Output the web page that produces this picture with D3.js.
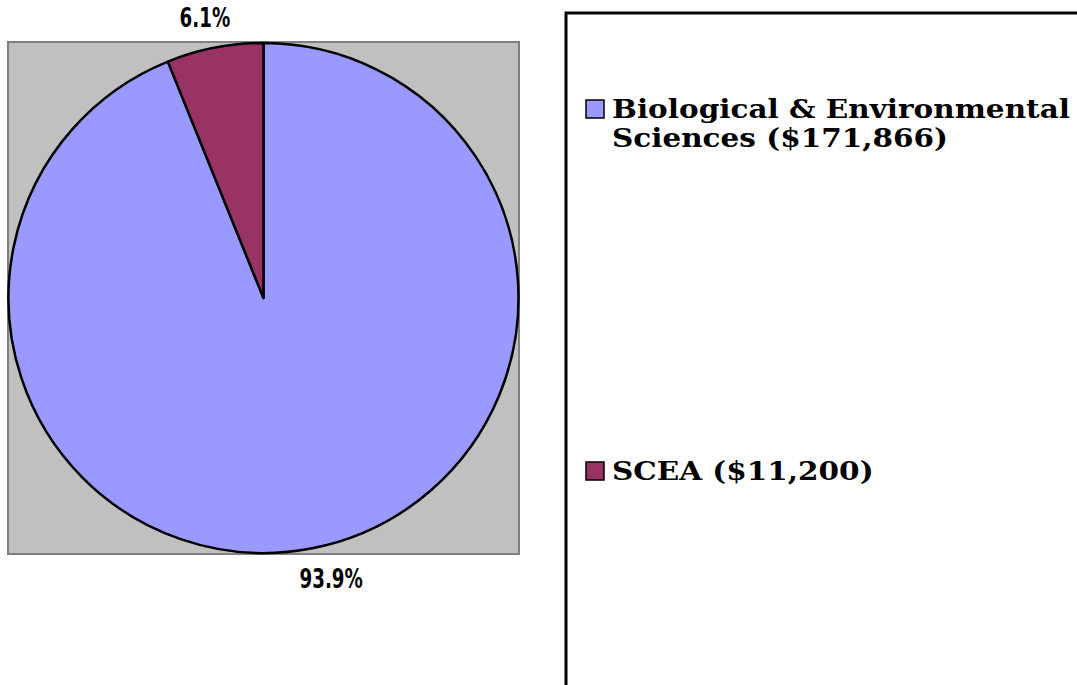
<!DOCTYPE html>
<html>
<head>
<meta charset="utf-8">
<script src="https://cdn.jsdelivr.net/npm/d3@7"></script>
<style>
  body { margin: 0; background: #fff; }
  svg { display: block; }
</style>
</head>
<body>
<svg width="1077" height="685"></svg>
<script>
var categories = ["Biological & Environmental Sciences ($171,866)", "SCEA ($11,200)"],
    legendLines = [["Biological & Environmental", "Sciences ($171,866)"], ["SCEA ($11,200)"]],
    amounts = [171866, 11200],
    colors = ["#9999ff", "#993366"];

var svg = d3.select("svg"),
    width = +svg.attr("width"),
    height = +svg.attr("height");

var cx = 263.5, cy = 298, r = 255;

// plot area
svg.append("rect")
    .attr("x", 8).attr("y", 42)
    .attr("width", 511).attr("height", 512)
    .attr("fill", "#c0c0c0")
    .attr("stroke", "#808080")
    .attr("stroke-width", 2);

var pie = d3.pie().sort(null).value(function(d) { return d; });
var arc = d3.arc().innerRadius(0).outerRadius(r);
var labelArc = d3.arc().innerRadius(286).outerRadius(286);
var total = d3.sum(amounts);
var pct = d3.format(".1%");
var labelDx = [13, -4];

var g = svg.append("g").attr("transform", "translate(" + cx + "," + cy + ")");

var arcs = pie(amounts);

g.selectAll(".slice")
    .data(arcs)
  .enter().append("path")
    .attr("class", "slice")
    .attr("d", arc)
    .attr("fill", function(d, i) { return colors[i]; })
    .attr("stroke", "#000")
    .attr("stroke-width", 2.5)
    .attr("stroke-linejoin", "round");

g.selectAll(".lbl")
    .data(arcs)
  .enter().append("g")
    .attr("class", "lbl")
    .attr("transform", function(d, i) {
      var c = labelArc.centroid(d);
      return "translate(" + (c[0] + labelDx[i]) + "," + c[1] + ") scale(0.78,1)";
    })
  .append("text")
    .attr("text-anchor", "middle")
    .attr("dy", "0.36em")
    .style("font-family", "'Liberation Sans Narrow', 'DejaVu Sans Condensed', sans-serif")
    .style("font-weight", "bold")
    .style("font-size", "26px")
    .text(function(d) { return pct(d.value / total); });

// legend box (runs off the right and bottom edges)
svg.append("rect")
    .attr("x", 566).attr("y", 13)
    .attr("width", 600).attr("height", 700)
    .attr("fill", "#fff")
    .attr("stroke", "#000")
    .attr("stroke-width", 3);

var legendY = [118, 480];

var item = svg.selectAll(".legend")
    .data(categories)
  .enter().append("g")
    .attr("class", "legend")
    .attr("transform", function(d, i) { return "translate(0," + legendY[i] + ")"; });

item.append("rect")
    .attr("x", 586).attr("y", -18)
    .attr("width", 18).attr("height", 18)
    .attr("fill", function(d, i) { return colors[i]; })
    .attr("stroke", "#000")
    .attr("stroke-width", 1.5);

var lines = item.selectAll(".line")
    .data(function(d, i) { return legendLines[i]; })
  .enter().append("g")
    .attr("class", "line")
    .attr("transform", function(d, j) { return "translate(612," + (j * 29) + ") scale(1,0.88)"; })
  .append("text")
    .style("font-family", "'DejaVu Serif', serif")
    .style("font-weight", "bold")
    .style("font-size", "24px")
    .text(function(d) { return d; });

// fit the longest line to the width seen in the picture
var w = lines.node().getComputedTextLength();
lines.style("font-size", (24 * 458 / w) + "px");
</script>
</body>
</html>
